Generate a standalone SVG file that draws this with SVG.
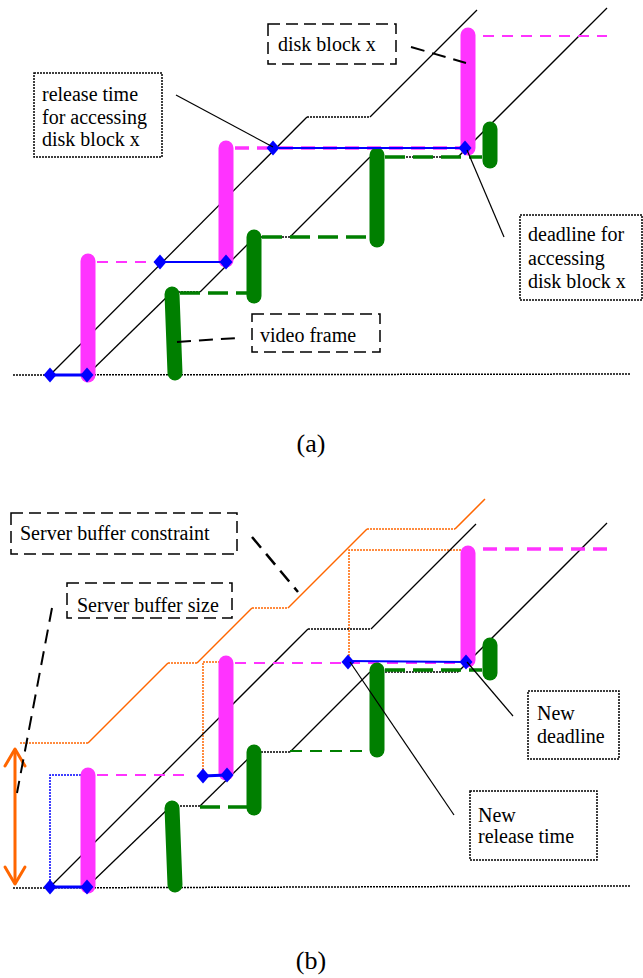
<svg xmlns="http://www.w3.org/2000/svg" width="643" height="978" viewBox="0 0 643 978">
<style>
text{font-family:"Liberation Serif","Times New Roman",serif;font-size:20px;fill:#000}
.cap{font-size:26px}
.axis{stroke:#000;stroke-width:1.5;stroke-dasharray:2 1;fill:none}
.stair{stroke:#000;stroke-width:1.3;fill:none}
.stairh{stroke:#000;stroke-width:1.5;stroke-dasharray:2 1;fill:none}
.pbar{stroke:#FF33FF;stroke-width:15;stroke-linecap:round}
.gbar{stroke:#007F00;stroke-width:15;stroke-linecap:round}
.pdash{stroke:#FF33FF;stroke-width:2;stroke-dasharray:11 8}
.pdashk{stroke:#FF33FF;stroke-width:3.5;stroke-dasharray:14 8}
.gdash{stroke:#007F00;stroke-width:3.5;stroke-dasharray:20 8}
.gdasht{stroke:#007F00;stroke-width:2;stroke-dasharray:12 8}
.blue{stroke:#0000FF;stroke-width:2}
.bluek{stroke:#0000FF;stroke-width:3}
.bdot{stroke:#0000FF;stroke-width:1.5;stroke-dasharray:2 1;fill:none}
.orng{stroke:#FF6600;stroke-width:1.5;fill:none}
.odot{stroke:#FF6600;stroke-width:1.5;stroke-dasharray:2 1;fill:none}
.oarr{stroke:#FF6600;stroke-width:3;fill:none;stroke-linecap:round;stroke-linejoin:round}
.lead{stroke:#000;stroke-width:1.2;fill:none}
.leadd{stroke:#000;stroke-width:2;stroke-dasharray:14 8;fill:none}
.boxd{fill:none;stroke:#000;stroke-width:1.5;stroke-dasharray:12 6}
.boxp{fill:none;stroke:#000;stroke-width:1.5;stroke-dasharray:2 1}
</style>
<defs>
<path id="dia" d="M0,-7.5 L6.5,0 L0,7.5 L-6.5,0 Z" fill="#0000FF"/>
</defs>

<!-- (a) schedule of disk blocks and video frames -->
<g id="plot-a">
<line class="axis" x1="13" y1="375" x2="630" y2="374"/>
<!-- release-time staircase -->
<line class="stair" x1="50" y1="375" x2="307" y2="117"/>
<line class="stairh" x1="307" y1="117" x2="370" y2="117"/>
<line class="stair" x1="370" y1="117" x2="477" y2="10"/>
<!-- deadline staircase -->
<line class="stair" x1="87" y1="375" x2="172" y2="292"/>
<line class="stairh" x1="172" y1="292" x2="200" y2="292"/>
<line class="stair" x1="200" y1="292" x2="255" y2="237"/>
<line class="stairh" x1="255" y1="237" x2="290" y2="237"/>
<line class="stair" x1="290" y1="237" x2="370" y2="157"/>
<line class="stairh" x1="370" y1="157" x2="458" y2="157"/>
<line class="stair" x1="458" y1="157" x2="607" y2="8"/>
<!-- level guides -->
<line class="pdash" x1="97" y1="262" x2="160" y2="262"/>
<line class="pdashk" x1="235" y1="148" x2="465" y2="148"/>
<line class="pdash" x1="483" y1="36" x2="607" y2="36"/>
<line class="gdash" x1="180" y1="293" x2="248" y2="293"/>
<line class="gdash" x1="262" y1="237" x2="375" y2="237"/>
<line class="gdash" x1="385" y1="157" x2="482" y2="157"/>
<!-- disk blocks -->
<line class="pbar" x1="88" y1="261" x2="88" y2="375"/>
<line class="pbar" x1="226" y1="148" x2="226" y2="260"/>
<line class="pbar" x1="468" y1="35" x2="468" y2="148"/>
<!-- video frames -->
<line class="gbar" x1="172" y1="294" x2="175" y2="373"/>
<line class="gbar" x1="254" y1="237" x2="254" y2="296"/>
<line class="gbar" x1="377" y1="155" x2="377" y2="240"/>
<line class="gbar" x1="490" y1="129" x2="490" y2="161"/>
<!-- access windows -->
<line class="bluek" x1="50" y1="375" x2="87" y2="375"/>
<line class="blue" x1="160" y1="262" x2="226" y2="262"/>
<line class="blue" x1="273" y1="148" x2="465" y2="148"/>
<use href="#dia" x="50" y="375"/>
<use href="#dia" x="87" y="375"/>
<use href="#dia" x="160" y="262"/>
<use href="#dia" x="226" y="262"/>
<use href="#dia" x="273" y="148"/>
<use href="#dia" x="465" y="148"/>
</g>

<!-- (b) schedule under a server buffer constraint -->
<g id="plot-b">
<line class="axis" x1="13" y1="888" x2="630" y2="886"/>
<!-- buffer constraint staircase -->
<line class="odot" x1="20" y1="743" x2="88" y2="743"/>
<line class="orng" x1="88" y1="743" x2="168" y2="663"/>
<line class="odot" x1="168" y1="663" x2="197" y2="663"/>
<line class="orng" x1="197" y1="663" x2="252" y2="608"/>
<line class="odot" x1="252" y1="608" x2="288" y2="608"/>
<line class="orng" x1="288" y1="608" x2="367" y2="529"/>
<line class="odot" x1="367" y1="529" x2="455" y2="529"/>
<line class="orng" x1="455" y1="529" x2="485" y2="499"/>
<polyline class="odot" points="203,776 203,662 228,662"/>
<polyline class="odot" points="349,662 349,550 467,550"/>
<polyline class="bdot" points="50,887 50,775 88,775"/>
<!-- release-time staircase -->
<line class="stair" x1="50" y1="887" x2="308" y2="629"/>
<line class="stairh" x1="308" y1="629" x2="371" y2="629"/>
<line class="stair" x1="371" y1="629" x2="476" y2="524"/>
<!-- deadline staircase -->
<line class="stair" x1="87" y1="887" x2="171" y2="806"/>
<line class="stairh" x1="171" y1="806" x2="200" y2="806"/>
<line class="stair" x1="200" y1="806" x2="255" y2="752"/>
<line class="stairh" x1="255" y1="752" x2="290" y2="752"/>
<line class="stair" x1="290" y1="752" x2="370" y2="672"/>
<line class="stairh" x1="370" y1="672" x2="458" y2="672"/>
<line class="stair" x1="458" y1="672" x2="607" y2="523"/>
<!-- level guides -->
<line class="pdash" x1="97" y1="775" x2="190" y2="775"/>
<line class="pdash" x1="235" y1="663" x2="465" y2="663"/>
<line class="pdashk" x1="483" y1="549" x2="607" y2="549"/>
<line class="gdash" x1="200" y1="807" x2="248" y2="807"/>
<line class="gdasht" x1="290" y1="751" x2="375" y2="751"/>
<line class="gdash" x1="385" y1="670" x2="482" y2="670"/>
<!-- disk blocks -->
<line class="pbar" x1="88" y1="775" x2="88" y2="886"/>
<line class="pbar" x1="226" y1="663" x2="226" y2="773"/>
<line class="pbar" x1="468" y1="553" x2="468" y2="660"/>
<!-- video frames -->
<line class="gbar" x1="172" y1="808" x2="175" y2="885"/>
<line class="gbar" x1="254" y1="752" x2="254" y2="808"/>
<line class="gbar" x1="377" y1="670" x2="377" y2="750"/>
<line class="gbar" x1="490" y1="645" x2="490" y2="673"/>
<!-- access windows -->
<line class="bluek" x1="50" y1="887" x2="87" y2="887"/>
<line class="bluek" x1="203" y1="776" x2="227" y2="775"/>
<line class="blue" x1="348" y1="661" x2="466" y2="662"/>
<use href="#dia" x="50" y="887"/>
<use href="#dia" x="87" y="887"/>
<use href="#dia" x="203" y="776"/>
<use href="#dia" x="227" y="775"/>
<use href="#dia" x="348" y="662"/>
<use href="#dia" x="466" y="662"/>
<!-- buffer size span -->
<line class="oarr" x1="15" y1="750" x2="15" y2="883"/>
<polyline class="oarr" points="5,766 15,749 25,766"/>
<polyline class="oarr" points="5,867 15,884 25,867"/>
</g>

<!-- label leaders -->
<g id="connectors">
<line class="lead" x1="176" y1="95" x2="273" y2="147"/>
<line class="leadd" x1="411" y1="47" x2="466" y2="63"/>
<line class="lead" x1="467" y1="150" x2="504" y2="237"/>
<line class="leadd" x1="177" y1="342" x2="237" y2="338"/>
<line class="leadd" x1="252" y1="537" x2="298" y2="592" style="stroke-width:2.5"/>
<line class="leadd" x1="52" y1="608" x2="17" y2="793"/>
<line class="lead" x1="467" y1="662" x2="513" y2="716"/>
<line class="lead" x1="350" y1="662" x2="454" y2="815"/>
</g>

<g id="label-disk-block">
<rect class="boxd" x="268" y="24" width="128" height="40"/>
<text x="278" y="51">disk block x</text>
</g>
<g id="label-release-time">
<rect class="boxp" x="34" y="73" width="128" height="84"/>
<text x="42" y="101">release time</text>
<text x="42" y="123.5">for accessing</text>
<text x="42" y="146">disk block x</text>
</g>
<g id="label-deadline">
<rect class="boxp" x="520" y="215" width="122" height="85"/>
<text x="528" y="241">deadline for</text>
<text x="528" y="264.5">accessing</text>
<text x="528" y="288">disk block x</text>
</g>
<g id="label-video-frame">
<rect class="boxd" x="252" y="314" width="128" height="38"/>
<text x="260" y="342">video frame</text>
</g>
<g id="label-buffer-constraint">
<rect class="boxd" x="11" y="513" width="226" height="41"/>
<text x="20" y="540">Server buffer constraint</text>
</g>
<g id="label-buffer-size">
<rect class="boxd" x="67" y="583" width="165" height="35"/>
<text x="77" y="612">Server buffer size</text>
</g>
<g id="label-new-deadline">
<rect class="boxp" x="528" y="691" width="91" height="68"/>
<text x="537" y="720">New</text>
<text x="537" y="743">deadline</text>
</g>
<g id="label-new-release">
<rect class="boxp" x="470" y="791" width="127" height="69"/>
<text x="478" y="822">New</text>
<text x="478" y="843">release time</text>
</g>

<text class="cap" x="311" y="452" text-anchor="middle">(a)</text>
<text class="cap" x="311" y="969" text-anchor="middle">(b)</text>
</svg>
